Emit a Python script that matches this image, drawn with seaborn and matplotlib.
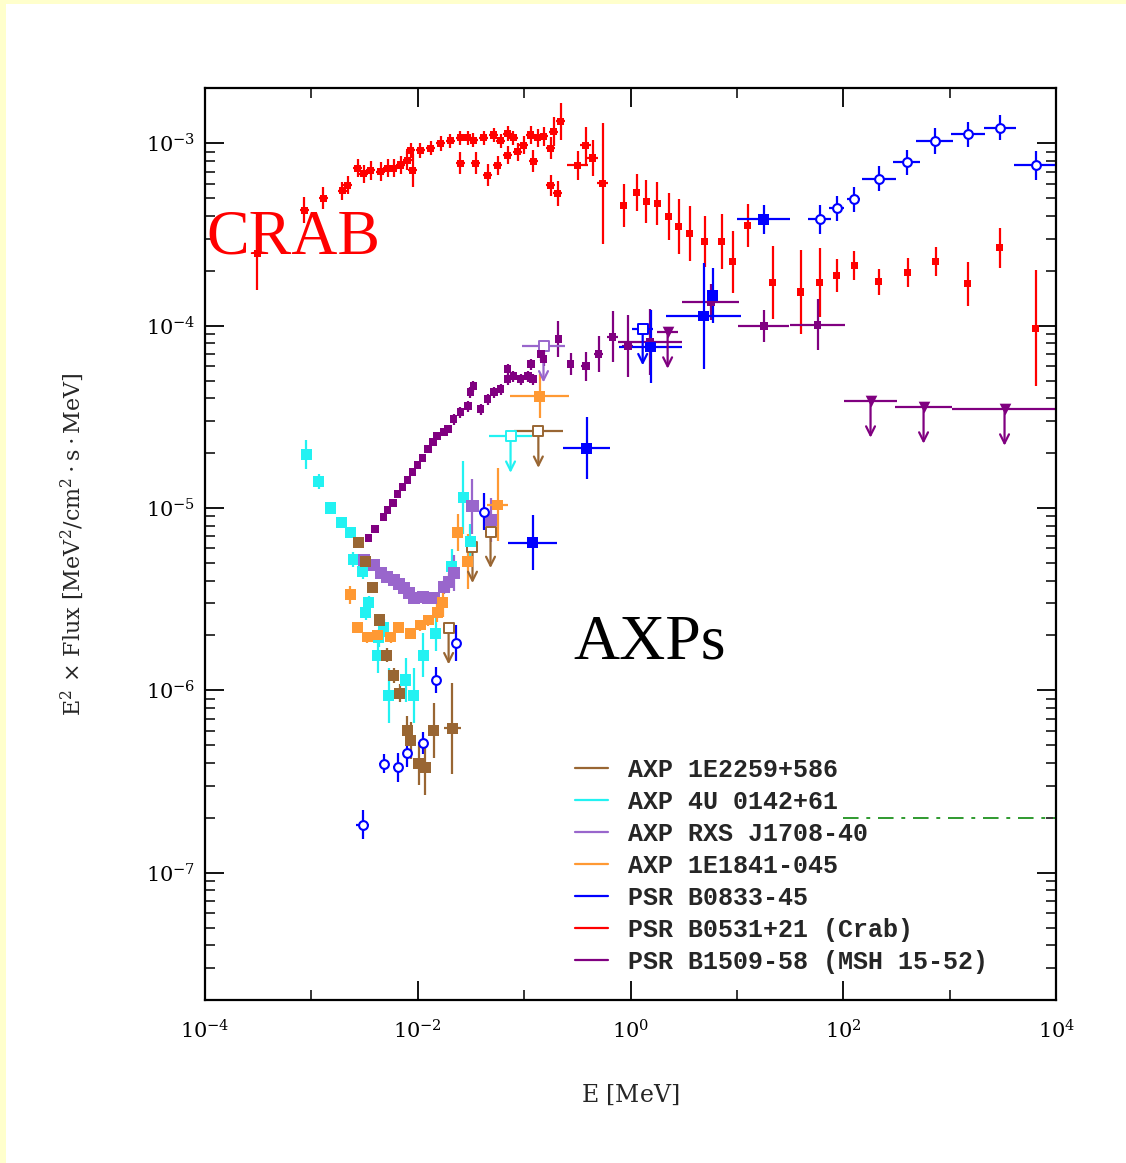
import numpy as np
import pandas as pd
import matplotlib
matplotlib.use("Agg")
import matplotlib.pyplot as plt
import seaborn as sns
from matplotlib.lines import Line2D
from matplotlib.patches import Rectangle
from matplotlib.ticker import FixedLocator, NullFormatter


# PSR B0531+21 (Crab): energy [MeV], E^2 x flux, half error bars in decades
crab_E = [3.1e-4, 8.6e-4, 1.3e-3, 1.96e-3, 2.19e-3, 2.72e-3, 3.1e-3, 3.6e-3, 4.47e-3, 5.2e-3,
          5.93e-3, 6.9e-3, 8.0e-3, 8.93e-3, 8.55e-3, 1.06e-2, 1.32e-2, 1.64e-2, 2.03e-2, 2.52e-2,
          2.94e-2, 3.34e-2, 2.52e-2, 3.49e-2, 4.15e-2, 5.16e-2, 6.0e-2, 6.98e-2, 7.94e-2, 4.53e-2,
          5.62e-2, 6.98e-2, 8.67e-2, 9.86e-2, 0.115, 0.134, 0.152, 0.122, 0.177, 0.189,
          0.22, 0.177, 0.206, 0.318, 0.378, 0.44, 0.546, 0.86, 1.14, 1.41,
          1.79, 2.28, 2.83, 3.59, 4.96, 7.16, 9.1, 12.6, 21.6, 39.6,
          59.7, 86.3, 127, 214, 401, 736, 1470, 2940, 6400]
crab_F = [2.5e-4, 4.3e-4, 5.0e-4, 5.5e-4, 5.9e-4, 7.3e-4, 6.8e-4, 7.1e-4, 7.0e-4, 7.3e-4,
          7.3e-4, 7.6e-4, 8.05e-4, 7.1e-4, 9.15e-4, 9.15e-4, 9.4e-4, 1.0e-3, 1.03e-3, 1.07e-3,
          1.07e-3, 1.04e-3, 7.76e-4, 7.76e-4, 1.07e-3, 1.11e-3, 1.03e-3, 1.13e-3, 1.07e-3, 6.67e-4,
          7.56e-4, 8.6e-4, 9.0e-4, 9.75e-4, 1.11e-3, 1.07e-3, 1.09e-3, 7.96e-4, 9.4e-4, 1.16e-3,
          1.32e-3, 5.87e-4, 5.31e-4, 7.56e-4, 9.75e-4, 8.3e-4, 6.02e-4, 4.56e-4, 5.37e-4, 4.80e-4,
          4.68e-4, 3.96e-4, 3.49e-4, 3.20e-4, 2.89e-4, 2.89e-4, 2.24e-4, 3.54e-4, 1.72e-4, 1.53e-4,
          1.72e-4, 1.88e-4, 2.13e-4, 1.74e-4, 1.95e-4, 2.24e-4, 1.70e-4, 2.68e-4, 9.7e-5]
crab_dF = [0.2, 0.07, 0.06, 0.05, 0.05, 0.05, 0.05, 0.05, 0.05, 0.05,
           0.05, 0.05, 0.05, 0.09, 0.04, 0.04, 0.04, 0.04, 0.04, 0.04,
           0.04, 0.04, 0.06, 0.06, 0.04, 0.04, 0.04, 0.04, 0.04, 0.06,
           0.05, 0.05, 0.05, 0.05, 0.05, 0.05, 0.05, 0.06, 0.06, 0.08,
           0.1, 0.06, 0.07, 0.08, 0.1, 0.1, 0.33, 0.12, 0.1, 0.12,
           0.12, 0.13, 0.15, 0.15, 0.14, 0.15, 0.17, 0.12, 0.2, 0.23,
           0.19, 0.09, 0.08, 0.07, 0.08, 0.08, 0.12, 0.11, 0.32]
crab_dE = [0.0, 0.04, 0.04, 0.04, 0.04, 0.04, 0.04, 0.04, 0.04, 0.04,
           0.04, 0.04, 0.04, 0.04, 0.04, 0.04, 0.04, 0.04, 0.04, 0.04,
           0.04, 0.04, 0.04, 0.04, 0.04, 0.04, 0.04, 0.04, 0.04, 0.04,
           0.04, 0.04, 0.04, 0.04, 0.04, 0.04, 0.04, 0.04, 0.04, 0.04,
           0.04, 0.04, 0.04, 0.1, 0.05, 0.05, 0.05, 0.0, 0.0, 0.0,
           0.0, 0.0, 0.0, 0.0, 0.0, 0.0, 0.0, 0.0, 0.0, 0.0,
           0.0, 0.0, 0.0, 0.0, 0.0, 0.0, 0.0, 0.0, 0.0]

# PSR B0833-45 (Vela)
vela_E = [3.03e-3, 4.77e-3, 6.46e-3, 8.0e-3, 1.11e-2, 1.47e-2, 2.27e-2, 4.15e-2, 0.12, 0.386,
          1.54, 4.85, 5.9, 17.8, 59.7, 86.3, 125, 214, 393, 719,
          1470, 2940, 6400]
vela_F = [1.83e-7, 3.97e-7, 3.78e-7, 4.56e-7, 5.12e-7, 1.14e-6, 1.82e-6, 9.55e-6, 6.45e-6, 2.12e-5,
          7.64e-5, 1.13e-4, 1.46e-4, 3.82e-4, 3.82e-4, 4.39e-4, 4.92e-4, 6.41e-4, 7.86e-4, 1.03e-3,
          1.12e-3, 1.22e-3, 7.56e-4]
vela_dF = [0.08, 0.05, 0.08, 0.08, 0.06, 0.07, 0.1, 0.1, 0.15, 0.17,
           0.2, 0.29, 0.15, 0.08, 0.08, 0.07, 0.07, 0.07, 0.07, 0.07,
           0.07, 0.07, 0.08]
vela_dE = [0.06, 0.04, 0.04, 0.03, 0.03, 0.03, 0.03, 0.03, 0.23, 0.22,
           0.3, 0.35, 0.0, 0.25, 0.11, 0.07, 0.06, 0.16, 0.13, 0.17,
           0.16, 0.15, 0.2]
vela_ul_E = [1.3]
vela_ul_F = [9.6e-5]
vela_ul_dE = [0.1]

# PSR B1509-58 (MSH 15-52)
msh_E = [3.45e-3, 3.93e-3, 4.77e-3, 5.2e-3, 5.8e-3, 6.46e-3, 7.2e-3, 8.0e-3, 8.93e-3, 9.95e-3,
         1.11e-2, 1.24e-2, 1.38e-2, 1.53e-2, 1.75e-2, 1.91e-2, 2.17e-2, 2.52e-2, 2.94e-2, 3.13e-2,
         3.34e-2, 3.89e-2, 4.53e-2, 5.16e-2, 6.0e-2, 6.98e-2, 6.98e-2, 7.94e-2, 9.25e-2, 0.108,
         0.115, 0.122, 0.143, 0.152, 0.21, 0.273, 0.378, 0.5, 0.677, 0.94,
         1.51, 5.65, 17.8, 57.2]
msh_F = [6.87e-6, 7.71e-6, 8.97e-6, 9.8e-6, 1.07e-5, 1.19e-5, 1.31e-5, 1.43e-5, 1.57e-5, 1.73e-5,
         1.89e-5, 2.1e-5, 2.29e-5, 2.47e-5, 2.6e-5, 2.7e-5, 3.07e-5, 3.35e-5, 3.61e-5, 4.32e-5,
         4.66e-5, 3.48e-5, 3.95e-5, 4.32e-5, 4.49e-5, 5.09e-5, 5.78e-5, 5.28e-5, 5.09e-5, 5.28e-5,
         6.15e-5, 5.09e-5, 6.99e-5, 6.56e-5, 8.45e-5, 6.15e-5, 6.0e-5, 6.99e-5, 8.67e-5, 7.73e-5,
         8.13e-5, 1.35e-4, 9.96e-5, 1.01e-4]
msh_dF = [0.02, 0.02, 0.02, 0.02, 0.02, 0.02, 0.02, 0.02, 0.02, 0.02,
          0.02, 0.02, 0.02, 0.02, 0.02, 0.02, 0.03, 0.03, 0.03, 0.03,
          0.03, 0.03, 0.03, 0.03, 0.03, 0.03, 0.03, 0.03, 0.03, 0.03,
          0.03, 0.03, 0.04, 0.04, 0.1, 0.06, 0.08, 0.1, 0.14, 0.17,
          0.18, 0.1, 0.09, 0.14]
msh_dE = [0.0, 0.0, 0.0, 0.0, 0.0, 0.0, 0.0, 0.0, 0.0, 0.0,
          0.0, 0.0, 0.0, 0.0, 0.0, 0.0, 0.0, 0.0, 0.0, 0.0,
          0.0, 0.0, 0.0, 0.0, 0.0, 0.0, 0.0, 0.0, 0.0, 0.0,
          0.0, 0.0, 0.0, 0.0, 0.03, 0.03, 0.04, 0.04, 0.05, 0.05,
          0.3, 0.27, 0.24, 0.26]
msh_ul_E = [2.23, 180, 567, 3270]
msh_ul_F = [9.2e-5, 3.85e-5, 3.57e-5, 3.48e-5]
msh_ul_dE = [0.1, 0.25, 0.27, 0.49]

# AXP 4U 0142+61
u0142_E = [9.0e-4, 1.17e-3, 1.51e-3, 1.92e-3, 2.33e-3, 2.49e-3, 3.03e-3, 3.45e-3, 3.23e-3, 4.77e-3,
           4.28e-3, 4.19e-3, 5.32e-3, 7.68e-3, 9.14e-3, 1.13e-2, 1.47e-2, 2.08e-2, 2.69e-2, 3.13e-2]
u0142_F = [1.97e-5, 1.40e-5, 1.0e-5, 8.31e-6, 7.33e-6, 5.2e-6, 4.47e-6, 3.02e-6, 2.66e-6, 2.2e-6,
           1.94e-6, 1.56e-6, 9.4e-7, 1.14e-6, 9.4e-7, 1.56e-6, 2.06e-6, 4.76e-6, 1.14e-5, 6.53e-6]
u0142_dF = [0.08, 0.04, 0.03, 0.03, 0.03, 0.04, 0.04, 0.04, 0.04, 0.05,
            0.05, 0.1, 0.15, 0.12, 0.15, 0.12, 0.1, 0.1, 0.2, 0.1]
u0142_ul_E = [7.45e-2]
u0142_ul_F = [2.47e-5]
u0142_ul_dE = [0.2]

# AXP RXS J1708-40
rxs_E = [3.1e-3, 3.85e-3, 4.47e-3, 5.09e-3, 5.93e-3, 6.6e-3, 7.36e-3, 8.19e-3, 9.14e-3, 1.13e-2,
         1.26e-2, 1.41e-2, 1.75e-2, 1.95e-2, 2.17e-2, 3.27e-2, 4.83e-2]
rxs_F = [5.2e-6, 4.89e-6, 4.41e-6, 4.19e-6, 4.04e-6, 3.84e-6, 3.65e-6, 3.42e-6, 3.21e-6, 3.25e-6,
         3.21e-6, 3.21e-6, 3.69e-6, 3.94e-6, 4.41e-6, 1.02e-5, 8.63e-6]
rxs_dF = [0.03, 0.03, 0.03, 0.03, 0.03, 0.03, 0.03, 0.03, 0.03, 0.03,
          0.03, 0.03, 0.04, 0.05, 0.1, 0.15, 0.12]
rxs_ul_E = [0.152]
rxs_ul_F = [7.73e-5]
rxs_ul_dE = [0.2]

# AXP 1E1841-045
e1841_E = [2.33e-3, 2.72e-3, 3.37e-3, 4.19e-3, 5.55e-3, 6.6e-3, 8.55e-3, 1.06e-2, 1.26e-2, 1.53e-2,
           1.71e-2, 2.37e-2, 2.94e-2, 5.62e-2, 0.14]
e1841_F = [3.34e-6, 2.22e-6, 1.96e-6, 2.01e-6, 1.96e-6, 2.22e-6, 2.06e-6, 2.28e-6, 2.43e-6, 2.66e-6,
           3.02e-6, 7.33e-6, 5.07e-6, 1.04e-5, 4.1e-5]
e1841_dF = [0.05, 0.03, 0.03, 0.03, 0.03, 0.03, 0.03, 0.03, 0.03, 0.05,
            0.08, 0.1, 0.15, 0.2, 0.12]
e1841_dE = [0.0, 0.0, 0.0, 0.0, 0.0, 0.0, 0.0, 0.0, 0.0, 0.0,
            0.0, 0.0, 0.05, 0.1, 0.28]

# AXP 1E2259+586
e2259_E = [2.78e-3, 3.23e-3, 3.76e-3, 4.38e-3, 5.09e-3, 5.93e-3, 6.75e-3, 8.0e-3, 8.55e-3, 1.02e-2,
           1.18e-2, 1.41e-2, 2.12e-2]
e2259_F = [6.45e-6, 5.07e-6, 3.65e-6, 2.43e-6, 1.56e-6, 1.21e-6, 9.64e-7, 6.03e-7, 5.31e-7, 3.97e-7,
           3.78e-7, 6.03e-7, 6.18e-7]
e2259_dF = [0.03, 0.03, 0.03, 0.03, 0.04, 0.04, 0.05, 0.08, 0.1, 0.12,
            0.15, 0.15, 0.25]
e2259_dE = [0.0, 0.0, 0.0, 0.0, 0.0, 0.0, 0.0, 0.0, 0.0, 0.0,
            0.0, 0.0, 0.08]
e2259_ul_E = [1.95e-2, 3.27e-2, 4.83e-2, 0.136]
e2259_ul_F = [2.2e-6, 6.14e-6, 7.42e-6, 2.63e-5]
e2259_ul_dE = [0.05, 0.04, 0.05, 0.23]

# dash-dotted sensitivity line
sens_E = [100, 1e4]
sens_F = [2e-7, 2e-7]

labels = ["AXP 1E2259+586", "AXP 4U 0142+61", "AXP RXS J1708-40", "AXP 1E1841-045",
          "PSR B0833-45", "PSR B0531+21 (Crab)", "PSR B1509-58 (MSH 15-52)"]
colors = {
    "AXP 1E2259+586": "#996633",
    "AXP 4U 0142+61": "#22f2f2",
    "AXP RXS J1708-40": "#9966cc",
    "AXP 1E1841-045": "#ff9933",
    "PSR B0833-45": "#0000ff",
    "PSR B0531+21 (Crab)": "#ff0000",
    "PSR B1509-58 (MSH 15-52)": "#800080",
}


def dex_err(vals, dex):
    vals = np.asarray(vals, float)
    dex = np.asarray(dex, float)
    return np.vstack([vals - vals / 10 ** dex, vals * 10 ** dex - vals])


sns.set_style("ticks")
plt.rcParams["font.family"] = ["DejaVu Serif"]
plt.rcParams["mathtext.fontset"] = "dejavuserif"

fig = plt.figure(figsize=(11.26, 11.63), dpi=100, facecolor="#ffffcc")
fig.patches.append(Rectangle((6 / 1126, 0), 1, 1 - 4 / 1163, transform=fig.transFigure,
                             facecolor="white", edgecolor="none", zorder=-1))
ax = fig.add_axes([0.182, 0.140, 0.756, 0.784])
ax.set_xscale("log")
ax.set_yscale("log")

# error bars
series = [
    ("PSR B0531+21 (Crab)", crab_E, crab_F, crab_dF, crab_dE),
    ("PSR B1509-58 (MSH 15-52)", msh_E, msh_F, msh_dF, msh_dE),
    ("PSR B0833-45", vela_E, vela_F, vela_dF, vela_dE),
    ("AXP 4U 0142+61", u0142_E, u0142_F, u0142_dF, None),
    ("AXP RXS J1708-40", rxs_E, rxs_F, rxs_dF, None),
    ("AXP 1E1841-045", e1841_E, e1841_F, e1841_dF, e1841_dE),
    ("AXP 1E2259+586", e2259_E, e2259_F, e2259_dF, e2259_dE),
]
for name, E, F, dF, dE in series:
    xerr = dex_err(E, dE) if dE is not None else None
    ax.errorbar(E, F, yerr=dex_err(F, dF), xerr=xerr, fmt="none",
                ecolor=colors[name], elinewidth=1.6, capsize=0, zorder=2)

# upper limits: horizontal bin plus a downward arrow of 0.2 decade
limits = [
    ("PSR B1509-58 (MSH 15-52)", msh_ul_E, msh_ul_F, msh_ul_dE),
    ("PSR B0833-45", vela_ul_E, vela_ul_F, vela_ul_dE),
    ("AXP 4U 0142+61", u0142_ul_E, u0142_ul_F, u0142_ul_dE),
    ("AXP RXS J1708-40", rxs_ul_E, rxs_ul_F, rxs_ul_dE),
    ("AXP 1E2259+586", e2259_ul_E, e2259_ul_F, e2259_ul_dE),
]
for name, E, F, dE in limits:
    c = colors[name]
    ax.errorbar(E, F, xerr=dex_err(E, dE), fmt="none", ecolor=c, elinewidth=1.6,
                capsize=0, zorder=2)
    for e, f in zip(E, F):
        ax.annotate("", xy=(e, f / 10 ** 0.2), xytext=(e, f),
                    arrowprops=dict(arrowstyle="->", color=c, lw=1.6,
                                    mutation_scale=16, shrinkA=0, shrinkB=0))
    if name == "PSR B1509-58 (MSH 15-52)":
        ax.scatter(E, F, marker="v", s=70, color=c, linewidth=0, zorder=3)
    else:
        ax.scatter(E, F, marker="s", s=50, facecolor="white", edgecolor=c,
                   linewidth=1.4, zorder=3)

# data points
frames = [pd.DataFrame({"E": E, "F": F, "source": name}) for name, E, F, _, _ in series]
points = pd.concat(frames, ignore_index=True)
open_pts = (points["source"] == "PSR B0833-45") & ((points["E"] < 0.1) | (points["E"] > 50))
sizes = {"PSR B0531+21 (Crab)": 26, "PSR B1509-58 (MSH 15-52)": 32, "PSR B0833-45": 60,
         "AXP 4U 0142+61": 65, "AXP RXS J1708-40": 75, "AXP 1E1841-045": 60, "AXP 1E2259+586": 65}
sns.scatterplot(data=points[~open_pts], x="E", y="F", hue="source", palette=colors,
                size="source", sizes=sizes, marker="s", linewidth=0, legend=False,
                ax=ax, zorder=3)
vela_open = points[open_pts]
ax.scatter(vela_open["E"], vela_open["F"], marker="o", s=40, facecolor="white",
           edgecolor=colors["PSR B0833-45"], linewidth=1.5, zorder=3)

sns.lineplot(x=sens_E, y=sens_F, ax=ax, color="#2f9a2f", linestyle=(0, (8, 4, 2, 4)),
             linewidth=1.4, zorder=2)

ax.text(1.03e-4, 2.48e-4, "CRAB", color="red", fontsize=46, family="Liberation Serif",
        ha="left", va="baseline")
ax.text(0.29, 1.5e-6, "AXPs", color="black", fontsize=46, family="Liberation Serif",
        ha="left", va="baseline")

ax.set_xlim(1e-4, 1e4)
ax.set_ylim(2e-8, 2e-3)
ax.xaxis.set_major_locator(FixedLocator([1e-4, 1e-2, 1, 1e2, 1e4]))
ax.xaxis.set_minor_locator(FixedLocator([1e-3, 1e-1, 1e1, 1e3]))
ax.xaxis.set_minor_formatter(NullFormatter())
ax.yaxis.set_minor_formatter(NullFormatter())
ax.tick_params(which="both", direction="in", top=True, right=True, colors="black")
ax.tick_params(which="major", length=14, width=1.3, labelsize=15, pad=7)
ax.tick_params(axis="x", which="major", pad=14)
ax.tick_params(which="minor", length=7, width=1.1)
for s in ax.spines.values():
    s.set_color("black")
    s.set_linewidth(1.6)

ax.set_xlabel(r"E $\left[\mathrm{MeV}\right]$", fontsize=17)
ax.set_ylabel(r"E$^2$ $\times$ Flux $\left[\mathrm{MeV^2/cm^2 \cdot s \cdot MeV}\right]$",
              fontsize=16)
ax.xaxis.set_label_coords(0.5, -0.09)
ax.yaxis.set_label_coords(-0.14, 0.5)

handles = [Line2D([], [], color=colors[n], lw=1.6) for n in labels]
ax.legend(handles, labels, loc="upper left", bbox_to_anchor=(0.435, 0.266),
          frameon=False, prop={"family": "Liberation Mono", "weight": "bold", "size": 18},
          handlelength=1.3, handletextpad=0.8, labelspacing=0.32,
          borderpad=0, borderaxespad=0)

fig.savefig("out.png", dpi=100, facecolor=fig.get_facecolor())
